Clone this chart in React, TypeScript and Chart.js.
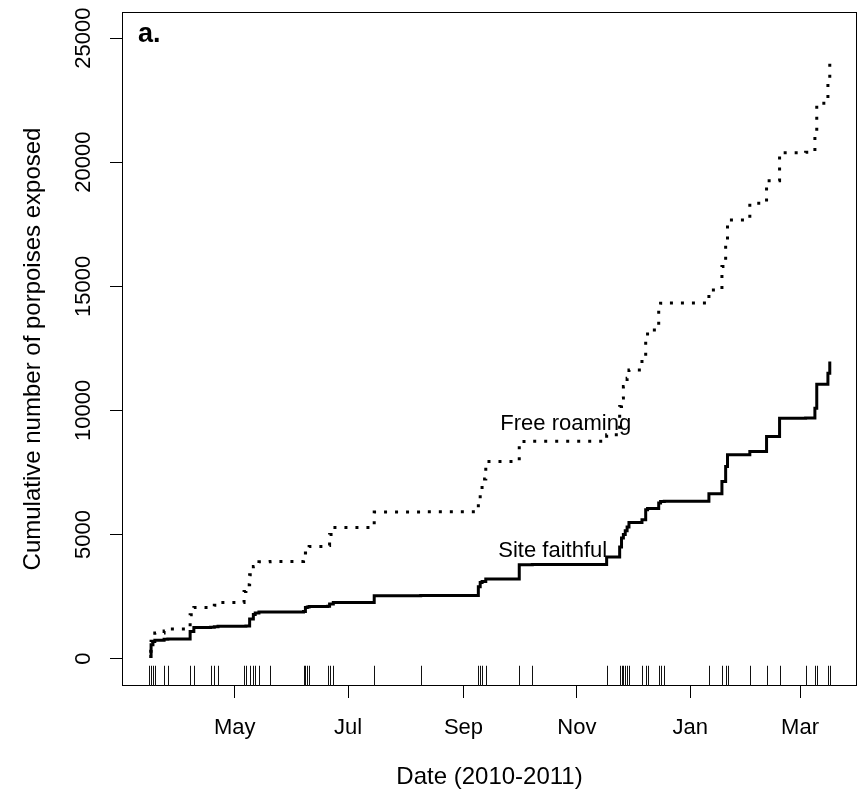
import React, { useEffect, useRef } from "react";
import { Chart, registerables } from "chart.js";

Chart.register(...registerables);

// ---- data -------------------------------------------------------------
const eventDates = [
  "2010-03-16", "2010-03-17", "2010-03-18", "2010-03-19", "2010-03-24", "2010-03-26",
  "2010-04-07", "2010-04-09", "2010-04-18", "2010-04-20", "2010-04-22",
  "2010-05-06", "2010-05-07", "2010-05-09", "2010-05-11", "2010-05-12", "2010-05-14", "2010-05-20",
  "2010-06-07", "2010-06-08", "2010-06-09", "2010-06-10", "2010-06-20", "2010-06-21", "2010-06-23",
  "2010-07-15", "2010-08-09",
  "2010-09-09", "2010-09-10", "2010-09-11", "2010-09-13",
  "2010-10-01", "2010-10-08",
  "2010-11-17", "2010-11-24", "2010-11-25", "2010-11-26", "2010-11-27", "2010-11-28", "2010-11-29",
  "2010-12-06", "2010-12-08", "2010-12-09", "2010-12-15", "2010-12-16", "2010-12-18",
  "2011-01-11", "2011-01-18", "2011-01-20", "2011-01-21",
  "2011-02-02", "2011-02-11", "2011-02-18",
  "2011-03-04", "2011-03-09", "2011-03-10", "2011-03-16", "2011-03-17",
];

const siteFaithful = [
  90, 564, 697, 740, 780, 793,
  1100, 1260, 1270, 1290, 1310,
  1310, 1320, 1600, 1780, 1840, 1880, 1885,
  1900, 2065, 2080, 2105, 2110, 2200, 2267,
  2536, 2545,
  2900, 3072, 3112, 3208,
  3784, 3790,
  4094, 4500, 4859, 5000, 5150, 5300, 5487,
  5600, 5998, 6050, 6268, 6333, 6340,
  6643, 7138, 7742, 8213,
  8346, 8950, 9690,
  9700, 10093, 11059, 11500, 11970,
];

const freeRoaming = [
  300, 700, 926, 1034, 1120, 1200,
  1771, 2060, 2080, 2150, 2267,
  2710, 2979, 3382, 3716, 3800, 3900, 3917,
  4100, 4255, 4400, 4523, 4560, 5000, 5286,
  5906, 5915,
  6333, 6804, 7234, 7943,
  8748, 8760,
  9018, 10157, 10500, 10962, 11150, 11300, 11634,
  12037, 12842, 13245, 14251, 14320, 14330,
  14855, 15800, 16800, 17673,
  18345, 19256, 20383,
  20400, 21200, 22370, 23200, 24247,
];

const monthTickDates = ["2010-05-01", "2010-07-01", "2010-09-01", "2010-11-01", "2011-01-01", "2011-03-01"];
const monthTickLabels = ["May", "Jul", "Sep", "Nov", "Jan", "Mar"];
const yTickValues = [0, 5000, 10000, 15000, 20000, 25000];
const Y_MIN = -1100;
const Y_MAX = 26050;

const seriesLabels = ["Free roaming", "Site faithful"];
const seriesLabelDates = ["2010-10-26", "2010-10-19"];
const seriesLabelValues = [9450, 4340];

const panelLabel = "a.";
const xTitle = "Date (2010-2011)";
const yTitle = "Cumulative number of porpoises exposed";

// ---- helpers ----------------------------------------------------------
const DAY0 = Date.UTC(2010, 0, 1);
const toDay = (s: string) => (Date.parse(s) - DAY0) / 86400000;

const eventDays = eventDates.map(toDay);
const monthTickDays = monthTickDates.map(toDay);
const firstDay = eventDays[0];
const lastDay = eventDays[eventDays.length - 1];
const ext = (lastDay - firstDay) * 0.04;
const X_MIN = firstDay - ext;
const X_MAX = lastDay + ext;

const FONT = "'Liberation Sans', Arial, Helvetica, sans-serif";

const decorPlugin = {
  id: "decor",
  afterDraw(chart: any) {
    const { ctx, chartArea: a, scales } = chart;
    const x = scales.x;
    const y = scales.y;
    ctx.save();
    // plot box
    ctx.strokeStyle = "#000";
    ctx.lineWidth = 1;
    ctx.strokeRect(a.left + 0.5, a.top + 0.5, a.right - a.left - 1, a.bottom - a.top - 1);
    // rug
    const len = (a.bottom - a.top) * 0.03;
    ctx.strokeStyle = "#111";
    ctx.beginPath();
    eventDays.forEach((d) => {
      const px = Math.round(x.getPixelForValue(d)) + 0.5;
      ctx.moveTo(px, a.bottom);
      ctx.lineTo(px, a.bottom - len);
    });
    ctx.stroke();
    // series labels
    ctx.fillStyle = "#000";
    ctx.font = `22px ${FONT}`;
    ctx.textAlign = "center";
    ctx.textBaseline = "middle";
    seriesLabels.forEach((t, i) => {
      ctx.fillText(t, x.getPixelForValue(toDay(seriesLabelDates[i])), y.getPixelForValue(seriesLabelValues[i]));
    });
    // panel label
    ctx.font = `bold 27px ${FONT}`;
    ctx.textAlign = "left";
    ctx.textBaseline = "alphabetic";
    ctx.fillText(panelLabel, a.left + 16, a.top + 30);
    ctx.restore();
  },
};

export default function App() {
  const ref = useRef<HTMLCanvasElement | null>(null);

  useEffect(() => {
    document.body.style.margin = "0";
    const canvas = ref.current;
    if (!canvas) return;
    Chart.defaults.font.family = FONT;
    const chart = new Chart(canvas, {
      type: "line",
      data: {
        datasets: [
          {
            label: "Free roaming",
            data: eventDays.map((d, i) => ({ x: d, y: freeRoaming[i] })),
            borderColor: "#000",
            borderWidth: 3,
            borderDash: [3, 8],
            borderCapStyle: "butt",
            stepped: "before",
            pointRadius: 0,
            fill: false,
          },
          {
            label: "Site faithful",
            data: eventDays.map((d, i) => ({ x: d, y: siteFaithful[i] })),
            borderColor: "#000",
            borderWidth: 3,
            stepped: "before",
            pointRadius: 0,
            fill: false,
          },
        ],
      },
      options: {
        responsive: false,
        animation: false,
        devicePixelRatio: 1,
        layout: { padding: { top: 12, right: 1, left: 0, bottom: 0 } },
        plugins: { legend: { display: false }, tooltip: { enabled: false } },
        scales: {
          x: {
            type: "linear",
            min: X_MIN,
            max: X_MAX,
            afterBuildTicks: (s: any) => {
              s.ticks = monthTickDays.map((v) => ({ value: v }));
            },
            afterFit: (s: any) => {
              s.height = 110;
              s.paddingLeft = 0;
              s.paddingRight = 0;
            },
            border: { display: false },
            grid: { drawOnChartArea: false, drawTicks: true, tickLength: 12, color: "#000", lineWidth: 1 },
            ticks: {
              color: "#000",
              font: { size: 22 },
              minRotation: 0,
              maxRotation: 0,
              autoSkip: false,
              padding: 17,
              callback: (v: any) => {
                const i = monthTickDays.indexOf(Number(v));
                return i >= 0 ? monthTickLabels[i] : "";
              },
            },
            title: { display: true, text: xTitle, color: "#000", font: { size: 24 }, padding: { top: 0, bottom: 4 } },
          },
          y: {
            type: "linear",
            min: Y_MIN,
            max: Y_MAX,
            afterBuildTicks: (s: any) => {
              s.ticks = yTickValues.map((v) => ({ value: v }));
            },
            afterFit: (s: any) => {
              s.width = 122;
              s.paddingTop = 0;
              s.paddingBottom = 0;
            },
            border: { display: false },
            grid: { drawOnChartArea: false, drawTicks: true, tickLength: 12, color: "#000", lineWidth: 1 },
            ticks: {
              color: "#000",
              font: { size: 22 },
              minRotation: 90,
              maxRotation: 90,
              crossAlign: "center",
              padding: -5,
              autoSkip: false,
              callback: (v: any) => String(v),
            },
            title: { display: true, text: yTitle, color: "#000", font: { size: 24 }, padding: { top: 19, bottom: 0 } },
          },
        },
      },
      plugins: [decorPlugin],
    } as any);
    return () => chart.destroy();
  }, []);

  return (
    <div style={{ width: 858, height: 796 }}>
      <canvas ref={ref} width={858} height={796} style={{ display: "block" }} />
    </div>
  );
}
